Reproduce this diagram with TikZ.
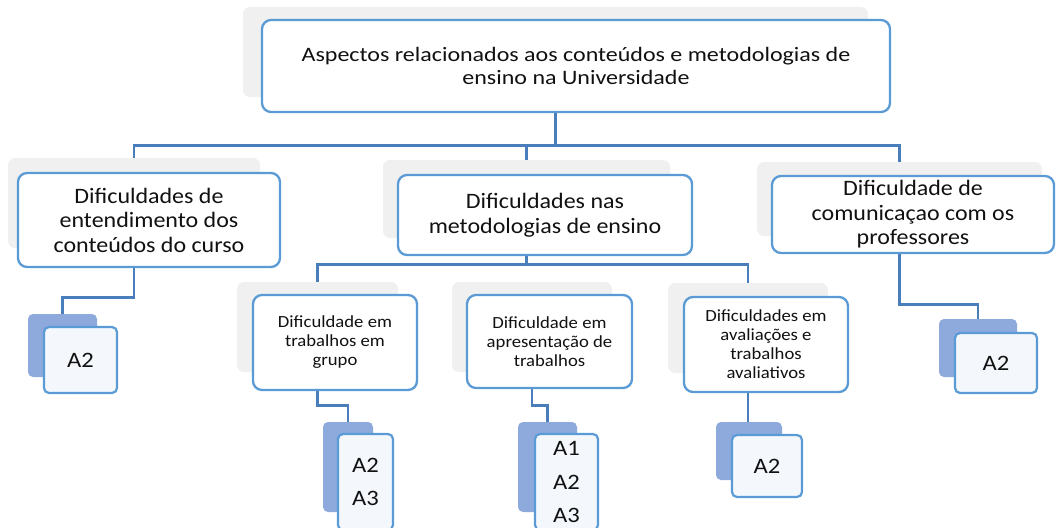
\documentclass[tikz,border=0pt]{standalone}
\usepackage{fontspec}
\setmainfont{Carlito}
\newfontfamily\topfont[FakeStretch=1.17]{Carlito}
\newfontfamily\midfont[FakeStretch=1.09]{Carlito}
\newfontfamily\smallfont[FakeStretch=1.1]{Carlito}
\newfontfamily\itemfont[FakeStretch=1.12]{Carlito}
\definecolor{boxblue}{HTML}{5B9BD5}
\definecolor{lineblue}{HTML}{4A7EBB}
\definecolor{shadowgray}{HTML}{F0F0F0}
\definecolor{stackdark}{HTML}{8EA9DB}
\definecolor{stackfill}{HTML}{F4F7FC}
\definecolor{txt}{HTML}{111111}
\tikzset{
  shadowbox/.style={fill=shadowgray, draw=none, rounded corners=7pt, inner sep=0pt},
  mainbox/.style={draw=boxblue, line width=2.3pt, fill=white, rounded corners=9pt, align=center, inner sep=0pt, text=txt},
  darkbox/.style={fill=stackdark, draw=none, rounded corners=5pt, inner sep=0pt},
  itembox/.style={draw=boxblue, line width=2.2pt, fill=stackfill, rounded corners=5pt, align=center, inner sep=0pt, text=txt},
  conn/.style={draw=lineblue, line width=2.6pt},
  ftop/.style={font=\topfont\fontsize{20.5}{22.5}\selectfont},
  fmid/.style={font=\midfont\fontsize{22}{24.5}\selectfont},
  fsmall/.style={font=\smallfont\fontsize{17}{19}\selectfont},
  fitem/.style={font=\itemfont\fontsize{22}{33.5}\selectfont},
}
\begin{document}
\begin{tikzpicture}[x=1pt,y=-1pt]
\useasboundingbox (0,0) rectangle (1056,527);
\clip (0,0) rectangle (1056,527);
% shadows
\node[shadowbox, minimum width=625pt, minimum height=90pt] (tops) at (555.5,52) {};
\node[shadowbox, minimum width=252pt, minimum height=90pt] (l1s) at (134,203) {};
\node[shadowbox, minimum width=287pt, minimum height=78pt] (mids) at (526.5,199) {};
\node[shadowbox, minimum width=285pt, minimum height=74pt] (rs) at (899.5,199) {};
\node[shadowbox, minimum width=161pt, minimum height=90pt] (s3a) at (317.5,327) {};
\node[shadowbox, minimum width=160pt, minimum height=90pt] (s3b) at (532,327) {};
\node[shadowbox, minimum width=160pt, minimum height=90pt] (s3c) at (748,328) {};
% stack backs
\node[darkbox, minimum width=69pt, minimum height=63pt] (d1) at (62.5,345.5) {};
\node[darkbox, minimum width=50pt, minimum height=90pt] (d2) at (348,467) {};
\node[darkbox, minimum width=59pt, minimum height=90pt] (d3) at (547.5,467) {};
\node[darkbox, minimum width=66pt, minimum height=58pt] (d4) at (749,451) {};
\node[darkbox, minimum width=78pt, minimum height=58pt] (d5) at (978,348) {};
% connectors
\draw[conn] (tops.south) -- ++(0,48) coordinate (bus);
\draw[conn] (bus) -| (l1s.north);
\draw[conn] (bus) -| (mids.north);
\draw[conn] (bus) -| (rs.north);
\draw[conn] (mids.south) -- ++(0,26) coordinate (bus2);
\draw[conn] (bus2) -| (s3a.north);
\draw[conn] (bus2) -| (s3c.north);
\draw[conn] (l1s.south) -- ++(0,49) -| (d1.north);
\draw[conn] (s3a.south) -- ++(0,33) -| (d2.north);
\draw[conn] (s3b.south) -- ++(0,33) -| (d3.north);
\draw[conn] (s3c.south) -- (s3c.south |- d4.north);
\draw[conn] (rs.south) -- ++(0,68) -| (d5.north);
% boxes
\node[mainbox, ftop, minimum width=628pt, minimum height=92pt] (top) at (576,66)
  {Aspectos relacionados aos conteúdos e metodologias de\\ensino na Universidade};
\node[mainbox, fmid, minimum width=262pt, minimum height=94pt] (l1) at (149,220)
  {Dificuldades de\\entendimento dos\\conteúdos do curso};
\node[mainbox, fmid, minimum width=294pt, minimum height=80pt] (mid) at (545,215)
  {Dificuldades nas\\metodologias de ensino};
\node[mainbox, fmid, minimum width=282pt, minimum height=77pt] (r) at (913,214.5)
  {Dificuldade de\\comunicaçao com os\\professores};
\node[mainbox, fsmall, minimum width=164pt, minimum height=95pt] (b3a) at (335,342.5)
  {Dificuldade em\\trabalhos em\\grupo};
\node[mainbox, fsmall, minimum width=165pt, minimum height=93pt] (b3b) at (549.5,341.5)
  {Dificuldade em\\apresentação de\\trabalhos};
\node[mainbox, fsmall, minimum width=164pt, minimum height=95pt] (b3c) at (766,344.5)
  {Dificuldades em\\avaliações e\\trabalhos\\avaliativos};
% stack fronts
\node[itembox, fitem, minimum width=73pt, minimum height=66pt] (w1) at (80.5,360) {A2};
\node[itembox, fitem, minimum width=55pt, minimum height=96pt] (w2) at (365.5,482) {A2\\A3};
\node[itembox, fitem, minimum width=63pt, minimum height=96pt] (w3) at (566.5,482) {A1\\A2\\A3};
\node[itembox, fitem, minimum width=70pt, minimum height=62pt] (w4) at (767,466) {A2};
\node[itembox, fitem, minimum width=82pt, minimum height=60pt] (w5) at (996,363) {A2};
\end{tikzpicture}
\end{document}
